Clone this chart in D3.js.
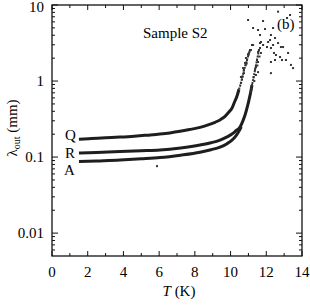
<!DOCTYPE html>
<html>
<head>
<meta charset="utf-8">
<script src="https://cdn.jsdelivr.net/npm/d3@7"></script>
<style>
  body { margin: 0; background: #fff; }
  svg { display: block; }
  text { font-family: "Liberation Serif", "Times New Roman", Times, Tinos, "DejaVu Serif", "Noto Serif", serif; }
</style>
</head>
<body>
<svg id="chart"></svg>
<script>
// lambda_out vs T for sample S2, three runs Q, R, A (log y)

// curve data: [T (K), lambda (mm)]
const curveQ = [
  [1.51,0.172],[2.2,0.175],[3.0,0.179],[3.81,0.183],[4.6,0.188],[5.3,0.194],
  [6.05,0.201],[6.6,0.208],[7.17,0.218],[7.7,0.230],[8.29,0.246],[8.7,0.263],
  [9.13,0.287],[9.45,0.313],[9.69,0.344],[9.9,0.39],[10.08,0.441],[10.22,0.53],
  [10.36,0.635],[10.47,0.78],[10.58,0.94],[10.67,1.15],[10.75,1.40],[10.84,1.62],
  [10.92,1.89],[11.0,2.2],[11.09,2.56],[11.2,2.98]
];
const curveR = [
  [1.51,0.113],[2.5,0.115],[3.81,0.118],[5.0,0.121],[6.05,0.124],[7.2,0.132],
  [8.29,0.144],[8.9,0.154],[9.41,0.167],[9.8,0.184],[10.08,0.201],[10.3,0.222],
  [10.53,0.248],[10.68,0.295],[10.81,0.357],[10.93,0.45],[11.03,0.562],[11.12,0.7],
  [11.2,0.886],[11.29,1.12],[11.37,1.40],[11.48,1.89],[11.59,2.56],[11.7,3.26]
];
const curveA = [
  [1.51,0.0873],[2.5,0.089],[3.81,0.0914],[5.0,0.0948],[6.05,0.0985],[7.2,0.106],
  [8.29,0.116],[8.9,0.125],[9.41,0.135],[9.8,0.150],[10.08,0.167],[10.3,0.19],
  [10.45,0.215],[10.6,0.25]
];
// loose points near the top of the curves and above them
const topDotsQ = [
  [10.58,1.13],[10.75,1.27],[10.7,1.48],[10.81,1.73],[10.86,2.01],[11.14,2.56],
  [10.98,2.26],[11.26,2.98],[10.64,1.05],[10.9,1.7],[11.05,2.4]
];
const topDotsR = [
  [11.42,1.2],[11.54,1.31],[11.42,1.53],[11.54,1.78],[11.54,2.41],[11.7,2.34],
  [11.65,2.72],[11.82,2.98],[11.65,3.16],[11.33,1.0],[11.5,1.6],[11.62,2.1]
];
const scatterHigh = [
  [12.66,8.17],[10.98,6.35],[11.82,6.16],[11.26,4.98],[11.54,4.69],[11.93,4.83],
  [12.38,4.98],[11.65,4.03],[12.26,4.03],[12.21,3.46],[12.1,3.26],[12.49,3.68],
  [12.66,3.16],[12.82,2.8],[12.94,2.8],[12.38,2.98],[12.26,2.72],[12.04,2.8],
  [12.43,2.34],[12.54,2.2],[12.77,2.07],[12.49,1.89],[12.26,1.78],[13.22,2.34],
  [13.1,1.89],[13.38,1.63],[13.5,1.48],[12.26,1.27],[12.88,1.89],[13.33,7.39],
  [13.16,6.74],[5.88,0.076]
];

const xMajor = [0, 2, 4, 6, 8, 10, 12, 14];
const xMinor = [1, 3, 5, 7, 9, 11, 13];
const yMajor = [0.01, 0.1, 1, 10];
const yMajorLabels = ["0.01", "0.1", "1", "10"];
const yMinor = [0.006, 0.007, 0.008, 0.009,
  0.02, 0.03, 0.04, 0.05, 0.06, 0.07, 0.08, 0.09,
  0.2, 0.3, 0.4, 0.5, 0.6, 0.7, 0.8, 0.9,
  2, 3, 4, 5, 6, 7, 8, 9];

const width = 310, height = 305;
const pLeft = 52, pRight = 302, pTop = 5, pBottom = 256;

const svg = d3.select("#chart").attr("width", width).attr("height", height);

const x = d3.scaleLinear().domain([0, 14]).range([pLeft, pRight]);
const y = d3.scaleLog().domain([0.005, 10]).range([pBottom, pTop]);

// ticks, all pointing inward
const tickG = svg.append("g").attr("stroke", "#111").attr("stroke-width", 1);
function vTicks(vals, len) {
  tickG.selectAll(null).data(vals).enter().append("line")
    .attr("x1", d => x(d)).attr("x2", d => x(d))
    .attr("y1", pBottom).attr("y2", pBottom - len);
  tickG.selectAll(null).data(vals).enter().append("line")
    .attr("x1", d => x(d)).attr("x2", d => x(d))
    .attr("y1", pTop).attr("y2", pTop + len);
}
function hTicks(vals, len) {
  tickG.selectAll(null).data(vals).enter().append("line")
    .attr("y1", d => y(d)).attr("y2", d => y(d))
    .attr("x1", pLeft).attr("x2", pLeft + len);
  tickG.selectAll(null).data(vals).enter().append("line")
    .attr("y1", d => y(d)).attr("y2", d => y(d))
    .attr("x1", pRight).attr("x2", pRight - len);
}
vTicks(xMajor, 5);
vTicks(xMinor, 3);
hTicks(yMajor, 6);
hTicks(yMinor, 3);

// frame
svg.append("rect")
  .attr("x", pLeft).attr("y", pTop)
  .attr("width", pRight - pLeft).attr("height", pBottom - pTop)
  .attr("fill", "none").attr("stroke", "#111").attr("stroke-width", 1.3);

// tick labels
svg.append("g").selectAll("text").data(xMajor).enter().append("text")
  .attr("x", d => x(d)).attr("y", 277)
  .attr("text-anchor", "middle").attr("font-size", 15)
  .text(d => d);

svg.append("g").selectAll("text").data(yMajor).enter().append("text")
  .attr("x", 44).attr("y", d => Math.max(y(d), 7)).attr("dy", "0.33em")
  .attr("text-anchor", "end").attr("font-size", 15)
  .text((d, i) => yMajorLabels[i]);

// axis titles
const xt = svg.append("text").attr("x", 179).attr("y", 296)
  .attr("text-anchor", "middle").attr("font-size", 15);
xt.append("tspan").attr("font-style", "italic").text("T");
xt.append("tspan").text(" (K)");

const yt = svg.append("text")
  .attr("transform", "translate(17,128) rotate(-90)")
  .attr("text-anchor", "middle").attr("font-size", 15);
yt.append("tspan").text("λ");
yt.append("tspan").attr("font-size", 10).attr("dy", 3).text("out");
yt.append("tspan").attr("dy", -3).text(" (mm)");

// curves: dense part as a thick band, the steep part as a chain of points
const line = d3.line()
  .x(d => x(d[0])).y(d => y(d[1]))
  .curve(d3.curveMonotoneX);

const dataG = svg.append("g");
[curveQ, curveR, curveA].forEach(c => {
  dataG.append("path")
    .datum(c.filter(d => d[1] <= 0.9))
    .attr("d", line)
    .attr("fill", "none").attr("stroke", "#1e1e1e")
    .attr("stroke-width", 3);
  dataG.append("path")
    .datum(c.filter(d => d[1] >= 0.7 && d[1] <= 2.6))
    .attr("d", line)
    .attr("fill", "none").attr("stroke", "#333")
    .attr("stroke-width", 2).attr("stroke-dasharray", "2,1");
});

const dots = curveQ.concat(curveR, topDotsQ, topDotsR, scatterHigh)
  .filter(d => d[1] > 0.8 || d[0] < 6 && d[1] < 0.08);
dataG.selectAll("rect").data(dots).enter().append("rect")
  .attr("x", d => x(d[0]) - 1).attr("y", d => y(d[1]) - 1)
  .attr("width", 2).attr("height", 2)
  .attr("fill", "#333");

// annotations
svg.append("g").attr("font-size", 15)
  .selectAll("text")
  .data([["Q", 65, 140], ["R", 65, 158], ["A", 64, 175],
         ["Sample S2", 143, 38], ["(b)", 277, 29]])
  .enter().append("text")
  .attr("x", d => d[1]).attr("y", d => d[2])
  .text(d => d[0]);
</script>
</body>
</html>
